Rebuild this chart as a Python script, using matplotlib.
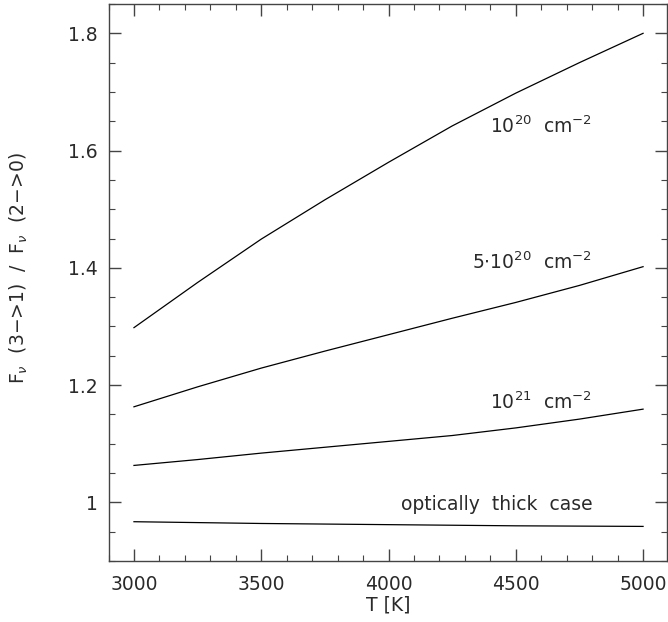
import numpy as np
import matplotlib
matplotlib.use("Agg")
import matplotlib.pyplot as plt
from matplotlib.ticker import MultipleLocator, FormatStrFormatter

plt.rcParams['font.family'] = ['DejaVu Sans']
plt.rcParams['mathtext.fontset'] = 'dejavusans'

# temperaturas (K)
T = [3000, 3250, 3500, 3750, 4000, 4250, 4500, 4750, 5000]

# cocientes de flujo para cada densidad de columna
r_1e20 = [1.298, 1.375, 1.449, 1.516, 1.580, 1.642, 1.698, 1.750, 1.800]
r_5e20 = [1.163, 1.197, 1.229, 1.258, 1.286, 1.314, 1.341, 1.370, 1.402]
r_1e21 = [1.063, 1.073, 1.084, 1.094, 1.104, 1.114, 1.127, 1.142, 1.159]
T_thick = [3000, 3500, 4000, 4500, 5000]
r_thick = [0.967, 0.964, 0.962, 0.960, 0.959]

etiquetas = [r'10$^{20}$  cm$^{-2}$', r'5$\cdot$10$^{20}$  cm$^{-2}$',
             r'10$^{21}$  cm$^{-2}$', 'optically  thick  case']
y_etiquetas = [1.630, 1.398, 1.159, 0.987]

txt = '#2a2a2a'
fs = 13.5

fig = plt.figure(figsize=(6.68, 6.22), dpi=100)
ax = fig.add_axes([108.5 / 668, 1 - 561 / 622, (667 - 108.5) / 668, 557 / 622])

for serie in (r_1e20, r_5e20, r_1e21):
    ax.plot(T, serie, color='black', lw=0.9)
ax.plot(T_thick, r_thick, color='black', lw=0.9)

for texto, yy in zip(etiquetas, y_etiquetas):
    ax.text(4800, yy, texto, ha='right', va='baseline', fontsize=fs, color=txt)

ax.set_xlim(2900, 5094)
ax.set_ylim(0.9, 1.85)

ax.xaxis.set_major_locator(MultipleLocator(500))
ax.xaxis.set_minor_locator(MultipleLocator(100))
ax.yaxis.set_major_locator(MultipleLocator(0.2))
ax.yaxis.set_minor_locator(MultipleLocator(0.05))
ax.yaxis.set_major_formatter(FormatStrFormatter('%g'))

ax.tick_params(which='both', direction='in', top=True, right=True,
               colors='#444444', labelcolor=txt, labelsize=fs)
ax.tick_params(which='major', length=8.6, width=1.0)
ax.tick_params(which='minor', length=4.3, width=0.8)
ax.tick_params(axis='x', pad=10)
ax.tick_params(axis='y', pad=8)

for s in ax.spines.values():
    s.set_color('#444444')
    s.set_linewidth(1.0)

ax.set_xlabel('T [K]', fontsize=fs, color=txt, labelpad=1)
fig.text(19 / 668, 1 - 268 / 622, r'F$_\nu$  (3$-$>1)  /  F$_\nu$  (2$-$>0)',
         rotation=90, ha='center', va='center', fontsize=fs, color=txt)

fig.savefig('out.png', dpi=100)
